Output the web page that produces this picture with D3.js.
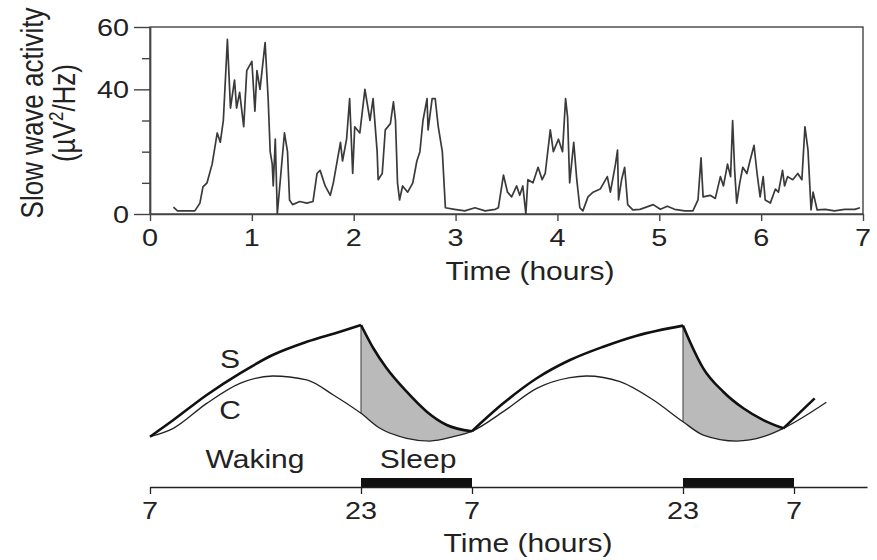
<!DOCTYPE html>
<html>
<head>
<meta charset="utf-8">
<script src="https://cdn.jsdelivr.net/npm/d3@7"></script>
<style>
  html, body { margin: 0; padding: 0; background: #fff; }
  text { font-family: "Liberation Sans", Arial, Helvetica, sans-serif; fill: #222; }
</style>
</head>
<body>
<script>
// ---- top panel: slow wave activity trace (hours, µV²/Hz) ----
const swaHours = [0.23,0.27,0.44,0.49,0.52,0.56,0.61,0.66,0.69,0.72,0.76,0.79,0.83,0.85,0.88,0.92,0.95,1.00,1.03,1.05,
  1.08,1.13,1.16,1.18,1.20,1.21,1.23,1.25,1.32,1.35,1.37,1.40,1.47,1.54,1.60,1.64,1.67,1.72,1.77,1.80,
  1.87,1.89,1.93,1.96,1.99,2.01,2.06,2.11,2.16,2.19,2.23,2.24,2.28,2.31,2.36,2.39,2.41,2.43,2.45,2.48,
  2.53,2.58,2.62,2.65,2.68,2.72,2.73,2.77,2.80,2.83,2.87,2.90,2.99,3.09,3.19,3.29,3.39,3.42,3.47,3.51,
  3.55,3.60,3.63,3.66,3.69,3.71,3.76,3.81,3.85,3.88,3.93,3.96,4.01,4.05,4.08,4.10,4.12,4.16,4.19,4.22,
  4.25,4.30,4.35,4.42,4.49,4.52,4.57,4.59,4.60,4.63,4.66,4.69,4.74,4.81,4.94,5.01,5.08,5.15,5.25,5.33,
  5.38,5.41,5.43,5.50,5.55,5.60,5.63,5.67,5.70,5.72,5.74,5.76,5.79,5.82,5.86,5.89,5.93,5.96,5.99,6.02,
  6.04,6.09,6.14,6.17,6.21,6.23,6.26,6.31,6.36,6.40,6.43,6.46,6.49,6.51,6.55,6.63,6.72,6.82,6.92,6.97];
const swaValues = [2.2,1,1,3.5,8.7,10,16,26,23,30,56,34,43,34,39,28,46,49,33,46,
  40,55,37,20,16,9,24,0,26,20,4.5,3,4,3.5,4,13,14,9,6,10,
  23,17,24,37,13,28,26,40,30,37,20,11,13,27,29,36,30,10,4.5,9,
  7,10,17,20,30,37,27,37,37,28,20,2,1.5,1,2,1,1.5,2,12.5,7,
  5.5,9,6,9,0,11,10,15,11,13,27,20,24,20,37,31,10,23,11,2,
  1,5.5,7,8,12,7,16,20.5,4.5,11,15,3,1.3,1.5,3,1.5,2.5,1.5,1,1,
  4.5,18,5.5,6,5,12,9,16,12,30,14,3.5,10,15,13,17,22,13,5.5,12,
  4.5,3.5,8,7,14,9,12,11,13,11,28,20.5,1.3,7,1.3,1.5,1,1.5,1.5,2];
const xTicks = [0,1,2,3,4,5,6,7];
const yMajor = [0,40,60];
const yMinor = [10,20,30,50];

// ---- bottom panel: two-process model (hours from 7:00, arbitrary level) ----
const clockHours = [0,16,24,40,48];
const clockLabels = ['7','23','7','23','7'];
const sleepPeriods = [[16,24],[40,48]];
const cHours = [0,1.77,4.30,6.82,9.30,11.88,13.90,16,17.37,19.29,20.97,22.65,24,
  26.37,28.91,31.43,32.69,35.22,37.75,40,41.46,43.87,45.79,47.23,50.35];
const cLevel = [0.69,1.39,3.47,5.14,5.75,5.42,4.17,2.64,1.39,0.56,0.33,0.69,1.15,
  2.78,4.72,5.61,5.75,5.28,3.75,1.94,0.83,0.33,0.69,1.39,3.56];
const sWake1Hours = [0,1.77,4.30,6.82,9.30,11.88,14.41,16];
const sWake1Level = [0.69,2.08,4.17,5.97,7.5,8.6,9.44,10];
const sSleep1Hours = [16,16.89,17.85,19.29,20.74,22.18,24];
const sSleep1Level = [10,8.06,6.39,4.44,2.78,1.67,1.15];
const sWake2Hours = [24,26.37,28.91,31.43,33.96,36.49,40];
const sWake2Level = [1.15,3.47,5.56,7.08,8.19,9.11,9.95];
const sSleep2Hours = [40,40.5,41.46,42.9,44.35,45.79,47.23];
const sSleep2Level = [9.95,8.61,6.39,4.44,3.06,2.08,1.39];
const sWake3Hours = [47.23,49.5];
const sWake3Level = [1.39,3.89];

const zip = (xs, ys) => xs.map((h, i) => [h, ys[i]]);
const STRETCH = 1.2;   // the scanned figure is wider than tall, text too

const svg = d3.select('body').append('svg')
  .attr('width', 877).attr('height', 560);

// helper for horizontally stretched labels
function label(x, y, txt, size, anchor) {
  return svg.append('text')
    .attr('transform', `translate(${x},${y}) scale(${STRETCH},1)`)
    .attr('text-anchor', anchor || 'middle')
    .attr('font-size', size)
    .text(txt);
}

// ================= top panel =================
const x = d3.scaleLinear().domain([0, 7]).range([150, 863]);
const y = d3.scaleLinear().domain([0, 60]).range([214, 27]);

svg.append('rect')
  .attr('x', x(0)).attr('y', y(60))
  .attr('width', x(7) - x(0)).attr('height', y(0) - y(60))
  .attr('fill', 'none').attr('stroke', '#444').attr('stroke-width', 1.4);

const gx = svg.append('g')
  .attr('transform', `translate(0,${y(0)})`)
  .call(d3.axisBottom(x).tickValues(xTicks).tickSize(7).tickSizeOuter(0).tickFormat(''));
const gyMaj = svg.append('g')
  .attr('transform', `translate(${x(0)},0)`)
  .call(d3.axisLeft(y).tickValues(yMajor).tickSize(16).tickSizeOuter(0).tickFormat(''));
const gyMin = svg.append('g')
  .attr('transform', `translate(${x(0)},0)`)
  .call(d3.axisLeft(y).tickValues(yMinor).tickSize(8).tickSizeOuter(0).tickFormat(''));
[gx, gyMaj, gyMin].forEach(g => {
  g.selectAll('path, line').attr('stroke', '#444').attr('stroke-width', 1.4);
});

xTicks.forEach(t => label(x(t), 246, String(t), 24));
yMajor.forEach(t => label(129, y(t) + 8.5, String(t), 24, 'end'));

svg.append('path')
  .datum(zip(swaHours, swaValues))
  .attr('fill', 'none')
  .attr('stroke', '#3a3a3a')
  .attr('stroke-width', 1.7)
  .attr('stroke-linejoin', 'round')
  .attr('d', d3.line().x(d => x(d[0])).y(d => y(d[1])));

label(530, 280, 'Time (hours)', 25);

// rotated y title, two lines
svg.append('text')
  .attr('transform', `translate(43,113) scale(${STRETCH},1) rotate(-90)`)
  .attr('text-anchor', 'middle').attr('font-size', 26)
  .text('Slow wave activity');
const yt2 = svg.append('text')
  .attr('transform', `translate(75,113) scale(${STRETCH},1) rotate(-90)`)
  .attr('text-anchor', 'middle').attr('font-size', 26);
yt2.append('tspan').text('(µV');
yt2.append('tspan').attr('dy', -10).attr('font-size', 17).text('2');
yt2.append('tspan').attr('dy', 10).text('/Hz)');

// ================= bottom panel =================
const tx = d3.scaleLinear().domain([0, 16, 24, 40, 48, 53.3]).range([150, 361, 472, 683, 794, 867]);
const ly = d3.scaleLinear().domain([0, 10]).range([445, 325]);
const line = d3.line().x(d => tx(d[0])).y(d => ly(d[1])).curve(d3.curveMonotoneX);

const cPts = zip(cHours, cLevel);
const sSleeps = [zip(sSleep1Hours, sSleep1Level), zip(sSleep2Hours, sSleep2Level)];

// grey area between S decay and C during sleep
sSleeps.forEach(seg => {
  const h0 = seg[0][0], h1 = seg[seg.length - 1][0];
  const cSeg = cPts.filter(p => p[0] >= h0 && p[0] <= h1).reverse();
  const d = line(seg) + 'L' + line(cSeg).slice(1) + 'Z';
  svg.append('path').attr('d', d).attr('fill', '#bababa').attr('stroke', 'none');
  // vertical line at sleep onset
  const cAt = cPts.find(p => p[0] === h0);
  svg.append('line')
    .attr('x1', tx(h0)).attr('x2', tx(h0))
    .attr('y1', ly(seg[0][1])).attr('y2', ly(cAt[1]))
    .attr('stroke', '#555').attr('stroke-width', 1.2);
});

// C
svg.append('path').datum(cPts)
  .attr('fill', 'none').attr('stroke', '#222').attr('stroke-width', 1.3)
  .attr('d', line);

// S segments
[zip(sWake1Hours, sWake1Level), sSleeps[0], zip(sWake2Hours, sWake2Level), sSleeps[1], zip(sWake3Hours, sWake3Level)]
  .forEach(seg => {
    svg.append('path').datum(seg)
      .attr('fill', 'none').attr('stroke', '#111').attr('stroke-width', 2.6)
      .attr('stroke-linejoin', 'miter')
      .attr('d', line);
  });

label(230, 368, 'S', 25);
label(230, 419, 'C', 25);
label(255, 468, 'Waking', 25);
label(418, 468, 'Sleep', 25);

// sleep bars
svg.selectAll('rect.sleep').data(sleepPeriods).join('rect')
  .attr('class', 'sleep')
  .attr('x', d => tx(d[0])).attr('width', d => tx(d[1]) - tx(d[0]))
  .attr('y', 478).attr('height', 9)
  .attr('fill', '#111');

const gt = svg.append('g')
  .attr('transform', 'translate(0,487)')
  .call(d3.axisBottom(tx).tickValues(clockHours).tickSize(7).tickSizeOuter(0).tickFormat(''));
gt.selectAll('path, line').attr('stroke', '#222').attr('stroke-width', 1.3);

clockHours.forEach((h, i) => label(tx(h), 519, clockLabels[i], 24));

label(528, 552, 'Time (hours)', 25);
</script>
</body>
</html>
